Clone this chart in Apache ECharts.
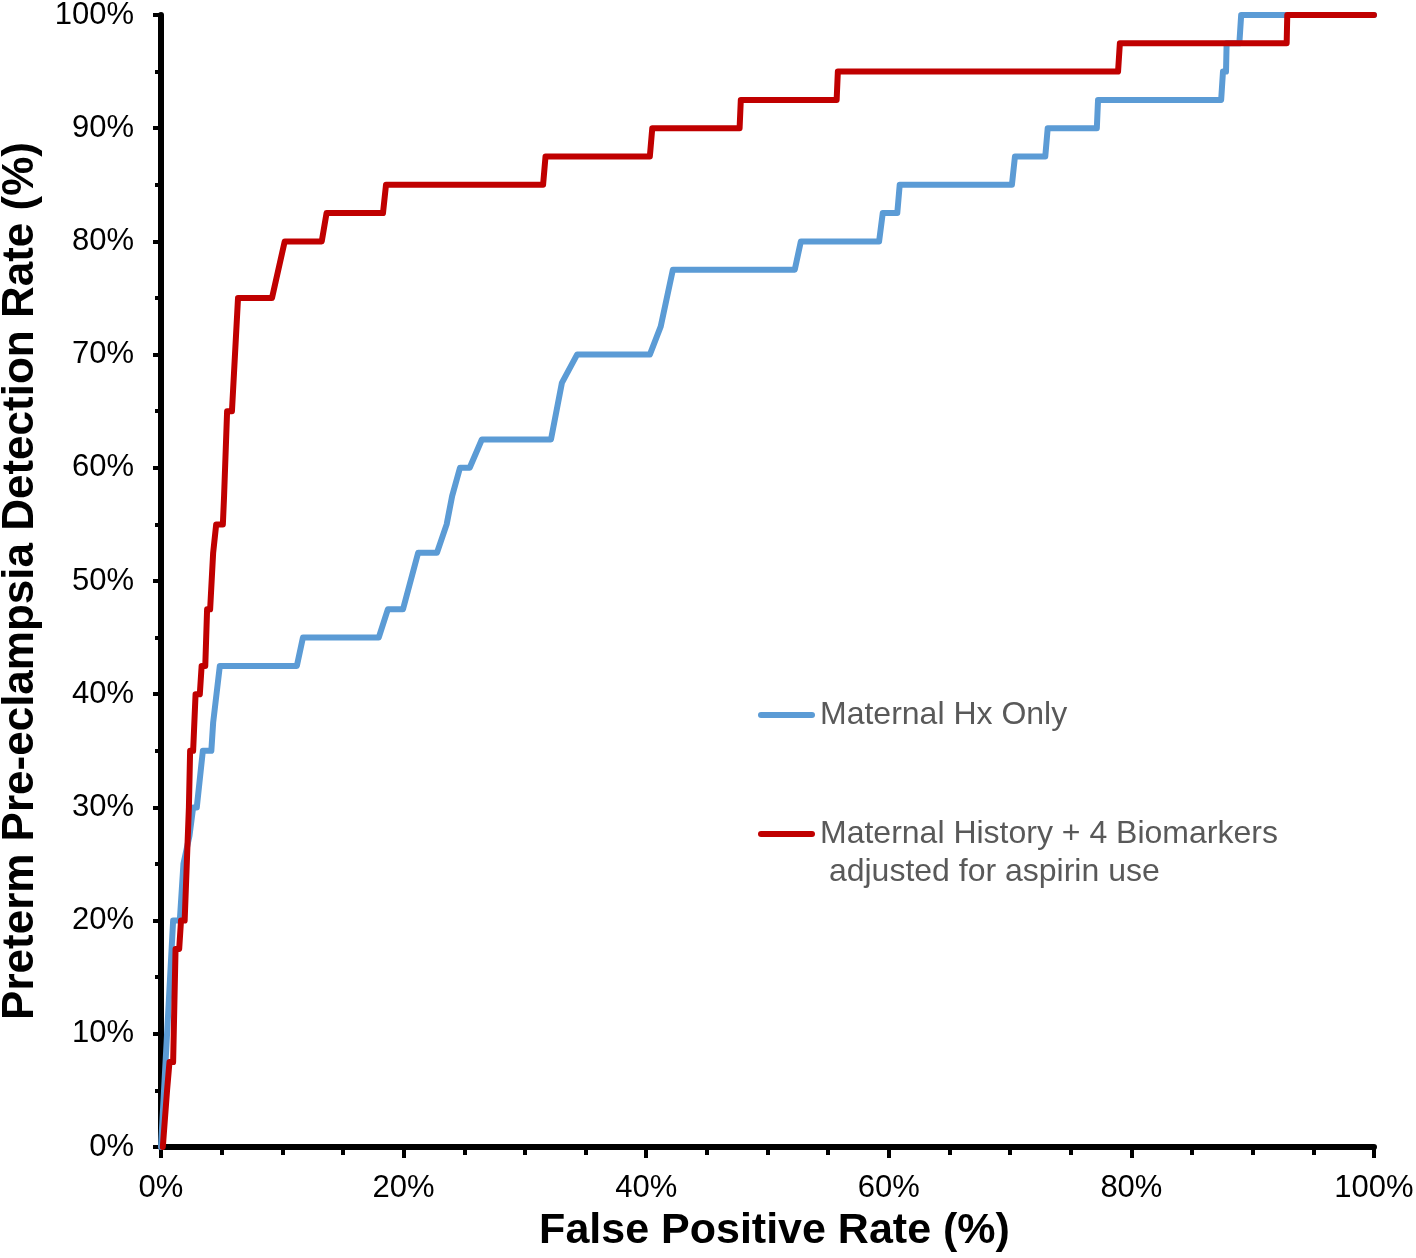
<!DOCTYPE html>
<html>
<head>
<meta charset="utf-8">
<script src="https://cdn.jsdelivr.net/npm/echarts@6/dist/echarts.min.js"></script>
<style>
html,body{margin:0;padding:0;background:#fff;}
#chart{width:1416px;height:1258px;}
</style>
</head>
<body>
<div id="chart"></div>
<script>
// Series names
var nameBlue = 'Maternal Hx Only';
var nameRed = 'Maternal History + 4 Biomarkers\n adjusted for aspirin use';

// Maternal Hx Only: false positive rate (%) and detection rate (%)
var blueFpr = [0, 0.25, 0.5, 0.75, 1.0, 1.55, 1.85, 2.35, 2.65, 2.95, 3.45, 4.15, 4.3, 4.85, 11.2, 11.7, 17.95, 18.7, 19.95, 21.2, 22.75, 23.55, 24.0, 24.65, 25.45, 26.45, 32.15, 33.05, 34.3, 40.3, 41.2, 42.2, 52.25, 52.75, 59.2, 59.5, 60.7, 60.9, 70.15, 70.4, 72.9, 73.1, 77.15, 77.25, 87.4, 87.55, 87.8, 87.85, 88.9, 89.05, 100];
var blueDr  = [0, 5, 10, 15, 20, 20, 25, 27.5, 30, 30, 35, 35, 37.5, 42.5, 42.5, 45, 45, 47.5, 47.5, 52.5, 52.5, 55, 57.5, 60, 60, 62.5, 62.5, 67.5, 70, 70, 72.5, 77.5, 77.5, 80, 80, 82.5, 82.5, 85, 85, 87.5, 87.5, 90, 90, 92.5, 92.5, 95, 95, 97.5, 97.5, 100, 100];

// Maternal History + 4 Biomarkers: false positive rate (%) and detection rate (%)
var redFpr = [0.15, 0.5, 0.7, 1.0, 1.2, 1.5, 1.65, 1.95, 2.3, 2.4, 2.65, 2.85, 3.2, 3.35, 3.65, 3.8, 4.05, 4.3, 4.55, 5.1, 5.2, 5.45, 5.85, 6.35, 9.15, 10.2, 13.25, 13.65, 18.3, 18.55, 31.5, 31.7, 40.3, 40.5, 47.7, 47.8, 55.7, 55.8, 78.9, 79.05, 92.8, 92.85, 100];
var redDr  = [0, 5, 7.5, 7.5, 17.5, 17.5, 20, 20, 30, 35, 35, 40, 40, 42.5, 42.5, 47.5, 47.5, 52.5, 55, 55, 57.5, 65, 65, 75, 75, 80, 80, 82.5, 82.5, 85, 85, 87.5, 87.5, 90, 90, 92.5, 92.5, 95, 95, 97.5, 97.5, 100, 100];

// Axis ticks
var yTickStep = 10;
var xTickStep = 20;

function zip(a, b) { return a.map(function (v, i) { return [v, b[i]]; }); }

var FONT = "'Liberation Sans', Arial, sans-serif";
var LEGEND_ICON = 'path://M3,0 L54,0 A3,3 0 0 1 54,6 L3,6 A3,3 0 0 1 3,0 Z';
var chart = echarts.init(document.getElementById('chart'), null, {renderer: 'canvas'});

var axisCommon = {
  type: 'value',
  min: 0,
  max: 100,
  axisLine: {show: true, lineStyle: {color: '#000', width: 6}},
  splitLine: {show: false},
  axisLabel: {formatter: '{value}%', color: '#000', fontSize: 31, fontFamily: FONT},
  nameLocation: 'middle'
};

var legendText = {color: '#595959', fontSize: 32, lineHeight: 38, fontFamily: FONT};

var option = {
  animation: false,
  backgroundColor: '#fff',
  grid: {left: 161, right: 42, top: 15, bottom: 111, containLabel: false, outerBoundsMode: 'none'},
  xAxis: Object.assign({}, axisCommon, {
    interval: xTickStep,
    name: 'False Positive Rate (%)',
    nameGap: 63,
    nameTextStyle: {color: '#000', fontSize: 43, fontWeight: 'bold', fontFamily: FONT, padding: [0, 0, 0, 14]},
    axisTick: {show: true, length: 11, lineStyle: {color: '#000', width: 4}},
    minorTick: {show: true, splitNumber: 4, length: 8, lineStyle: {color: '#000', width: 4}},
    axisLabel: Object.assign({}, axisCommon.axisLabel, {margin: 26})
  }),
  yAxis: Object.assign({}, axisCommon, {
    interval: yTickStep,
    name: 'Preterm Pre-eclampsia Detection Rate (%)',
    nameGap: 118,
    nameTextStyle: {color: '#000', fontSize: 44, fontWeight: 'bold', fontFamily: FONT},
    axisTick: {show: true, length: 8, lineStyle: {color: '#000', width: 4}},
    minorTick: {show: true, splitNumber: 2, length: 6, lineStyle: {color: '#000', width: 4}},
    axisLabel: Object.assign({}, axisCommon.axisLabel, {margin: 27})
  }),
  legend: [
    {
      data: [{name: nameBlue, icon: LEGEND_ICON}],
      orient: 'vertical',
      left: 758,
      top: 696,
      padding: 0,
      itemWidth: 57,
      itemHeight: 6,
      textStyle: legendText,
      selectedMode: false
    },
    {
      data: [{name: nameRed, icon: LEGEND_ICON}],
      orient: 'vertical',
      left: 758,
      top: 777,
      padding: 0,
      itemWidth: 57,
      itemHeight: 6,
      formatter: function (n) { return '\n' + n; },
      textStyle: legendText,
      selectedMode: false
    }
  ],
  series: [
    {
      name: nameBlue,
      type: 'line',
      data: zip(blueFpr, blueDr),
      symbol: 'none',
      color: '#5B9BD5',
      lineStyle: {color: '#5B9BD5', width: 6, cap: 'round', join: 'round'}
    },
    {
      name: nameRed,
      type: 'line',
      data: zip(redFpr, redDr),
      symbol: 'none',
      color: '#C00000',
      lineStyle: {color: '#C00000', width: 6, cap: 'round', join: 'round'}
    }
  ]
};
chart.setOption(option);
</script>
</body>
</html>
